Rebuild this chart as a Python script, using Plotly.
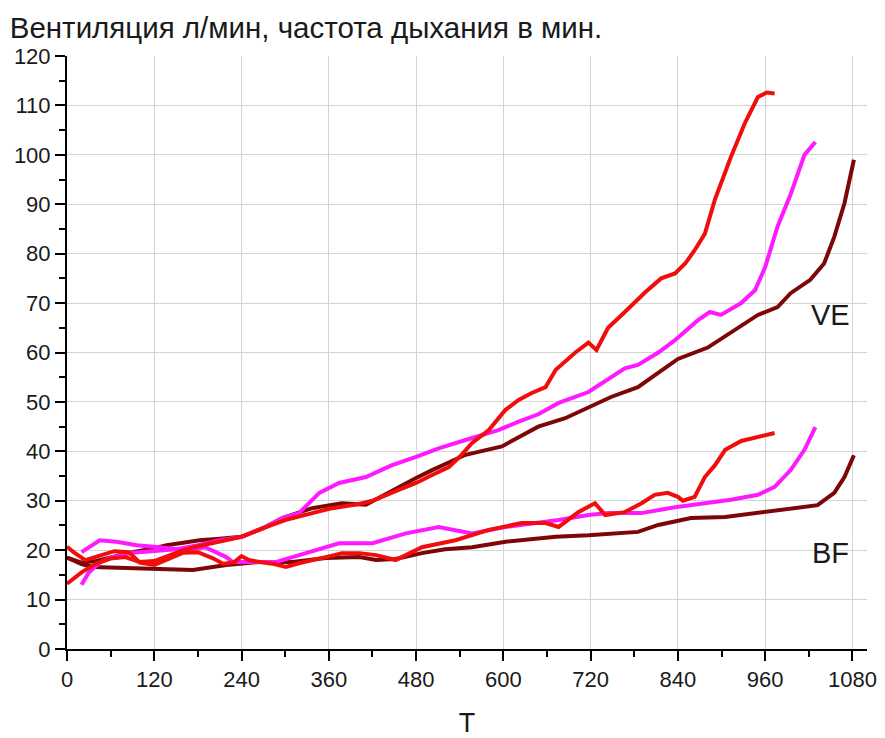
import plotly.graph_objects as go

RED = "#f20d0d"
MAGENTA = "#ff19ff"
MAROON = "#7d0606"

red_ve_t = [0, 20, 40, 60, 80, 100, 120, 140, 160, 180, 200, 240, 280, 300, 340, 365, 400, 420, 456,
            480, 502, 525, 540, 557, 580, 603, 621, 639, 658, 672, 699, 717, 728, 744, 767, 795, 817,
            836, 850, 863, 877, 891, 913, 932, 950, 962, 973]
red_ve = [13.2, 15.5, 17.3, 18.3, 18.6, 17.6, 17.8, 19.0, 20.0, 20.8, 21.4, 22.7, 25.0, 26.1, 27.6,
          28.5, 29.3, 30.0, 32.2, 33.6, 35.2, 36.8, 38.9, 41.7, 44.3, 48.4, 50.4, 51.8, 53.0, 56.5,
          60.0, 62.0, 60.5, 65.0, 68.2, 72.2, 75.0, 76.0, 78.0, 80.7, 84.0, 91.0, 99.6, 106.4, 111.7,
          112.6, 112.4]

red_bf_t = [0, 10, 25, 45, 65, 85, 100, 120, 140, 160, 180, 200, 215, 230, 240, 250, 265, 285, 301,
            320, 356, 378, 402, 425, 452, 488, 534, 580, 625, 658, 676, 703, 726, 740, 767, 790, 808,
            826, 840, 847, 863, 877, 891, 905, 927, 950, 973]
red_bf = [20.7, 19.5, 18.0, 18.8, 19.8, 19.6, 17.5, 17.0, 18.2, 19.5, 19.6, 18.4, 17.2, 17.6, 18.8,
          18.0, 17.6, 17.2, 16.6, 17.4, 18.6, 19.4, 19.4, 19.0, 18.0, 20.6, 22.0, 24.1, 25.5, 25.5,
          24.7, 27.7, 29.5, 27.1, 27.7, 29.5, 31.2, 31.6, 30.8, 30.0, 30.8, 34.8, 37.2, 40.3, 42.1,
          42.9, 43.7]

mag_ve_t = [20, 30, 45, 60, 90, 120, 150, 180, 210, 240, 270, 296, 319, 347, 374, 411, 447, 480, 511,
            548, 593, 621, 648, 676, 717, 767, 785, 813, 836, 868, 884, 899, 927, 946, 960, 977, 995,
            1014, 1029]
mag_ve = [13.0, 15.5, 17.5, 18.5, 19.5, 19.8, 20.2, 21.0, 22.0, 22.7, 24.5, 26.5, 27.5, 31.6, 33.6,
          34.8, 37.2, 38.9, 40.6, 42.3, 44.3, 46.0, 47.5, 49.8, 52.0, 56.8, 57.5, 60.0, 62.5, 66.6,
          68.2, 67.6, 70.0, 72.6, 77.3, 85.5, 92.0, 100.0, 102.6]

mag_bf_t = [20, 45, 68, 96, 127, 164, 190, 205, 219, 228, 265, 288, 310, 356, 374, 420, 466, 511, 557,
            603, 648, 676, 717, 744, 790, 836, 877, 913, 950, 973, 995, 1014, 1029]
mag_bf = [19.6, 22.0, 21.7, 21.0, 20.6, 20.0, 20.6, 19.6, 18.6, 17.6, 17.6, 17.6, 18.6, 20.6, 21.4,
          21.4, 23.4, 24.7, 23.4, 24.7, 25.5, 26.1, 27.1, 27.5, 27.5, 28.7, 29.5, 30.2, 31.2, 32.8,
          36.2, 40.3, 44.9]

mar_ve_t = [0, 20, 40, 60, 90, 120, 137, 160, 182, 210, 240, 270, 296, 337, 378, 411, 456, 480, 502,
            525, 548, 598, 648, 685, 717, 748, 785, 813, 840, 881, 913, 950, 977, 995, 1022, 1041,
            1055, 1069, 1082]
mar_ve = [18.5, 17.5, 17.8, 18.6, 19.6, 20.4, 21.0, 21.5, 22.0, 22.3, 22.7, 24.5, 26.5, 28.5, 29.5,
          29.2, 32.8, 34.6, 36.2, 37.8, 39.3, 41.0, 45.0, 46.7, 48.8, 51.0, 53.0, 55.8, 58.7, 61.0,
          64.0, 67.6, 69.2, 72.0, 74.7, 78.0, 83.4, 90.2, 99.0]

mar_bf_t = [0, 20, 36, 82, 127, 173, 219, 265, 310, 356, 402, 425, 452, 488, 520, 557, 603, 640, 672,
            717, 767, 785, 813, 858, 905, 950, 995, 1032, 1055, 1069, 1082]
mar_bf = [18.5, 17.2, 16.6, 16.4, 16.4, 16.0, 17.0, 17.6, 17.6, 18.4, 18.6, 18.0, 18.2, 19.4, 20.2,
          20.6, 21.7, 22.2, 22.7, 23.0, 23.4, 23.7, 25.1, 26.5, 26.7, 27.5, 28.5, 29.1, 31.6, 34.8,
          39.2]

series = [
    (mar_bf_t, mar_bf, MAROON),
    (mar_ve_t, mar_ve, MAROON),
    (mag_bf_t, mag_bf, MAGENTA),
    (mag_ve_t, mag_ve, MAGENTA),
    (red_bf_t, red_bf, RED),
    (red_ve_t, red_ve, RED),
]

fig = go.Figure()
for t, v, color in series:
    fig.add_trace(go.Scatter(x=t, y=v, mode="lines", line={"color": color, "width": 4}, hoverinfo="skip"))

font = "Liberation Sans, Arial, sans-serif"
text_color = "#1a1a1a"
axis_common = dict(
    showline=True,
    linecolor="black",
    linewidth=2,
    ticks="outside",
    ticklen=10,
    tickwidth=2,
    tickcolor="black",
    showgrid=True,
    gridcolor="#d4d4d4",
    gridwidth=1,
    zeroline=False,
    automargin=False,
    tickfont={"size": 22, "color": text_color, "family": font},
)

fig.update_xaxes(
    range=[0, 1100],
    tick0=0,
    dtick=120,
    minor={"dtick": 60, "ticks": "outside", "ticklen": 6, "tickwidth": 2, "tickcolor": "black", "showgrid": False},
    title={"text": "T", "font": {"size": 27, "color": text_color, "family": font}, "standoff": 22},
    **axis_common,
)
fig.update_yaxes(
    range=[0, 120],
    tick0=0,
    dtick=10,
    minor={"dtick": 5, "ticks": "outside", "ticklen": 6, "tickwidth": 2, "tickcolor": "black", "showgrid": False},
    **axis_common,
)

fig.add_annotation(x=1050, y=67.5, text="VE", showarrow=False, font={"size": 29, "color": text_color, "family": font})
fig.add_annotation(x=1050, y=19.5, text="BF", showarrow=False, font={"size": 29, "color": text_color, "family": font})

fig.update_layout(
    width=877,
    height=730,
    showlegend=False,
    plot_bgcolor="white",
    paper_bgcolor="white",
    title={
        "text": "Вентиляция л/мин, частота дыхания в мин.",
        "x": 0.002,
        "xanchor": "left",
        "y": 0.973,
        "yanchor": "middle",
        "font": {"size": 29.5, "color": text_color, "family": font},
    },
    margin={"l": 59, "r": 18, "t": 48, "b": 89},
)

fig.write_html("out.html")
